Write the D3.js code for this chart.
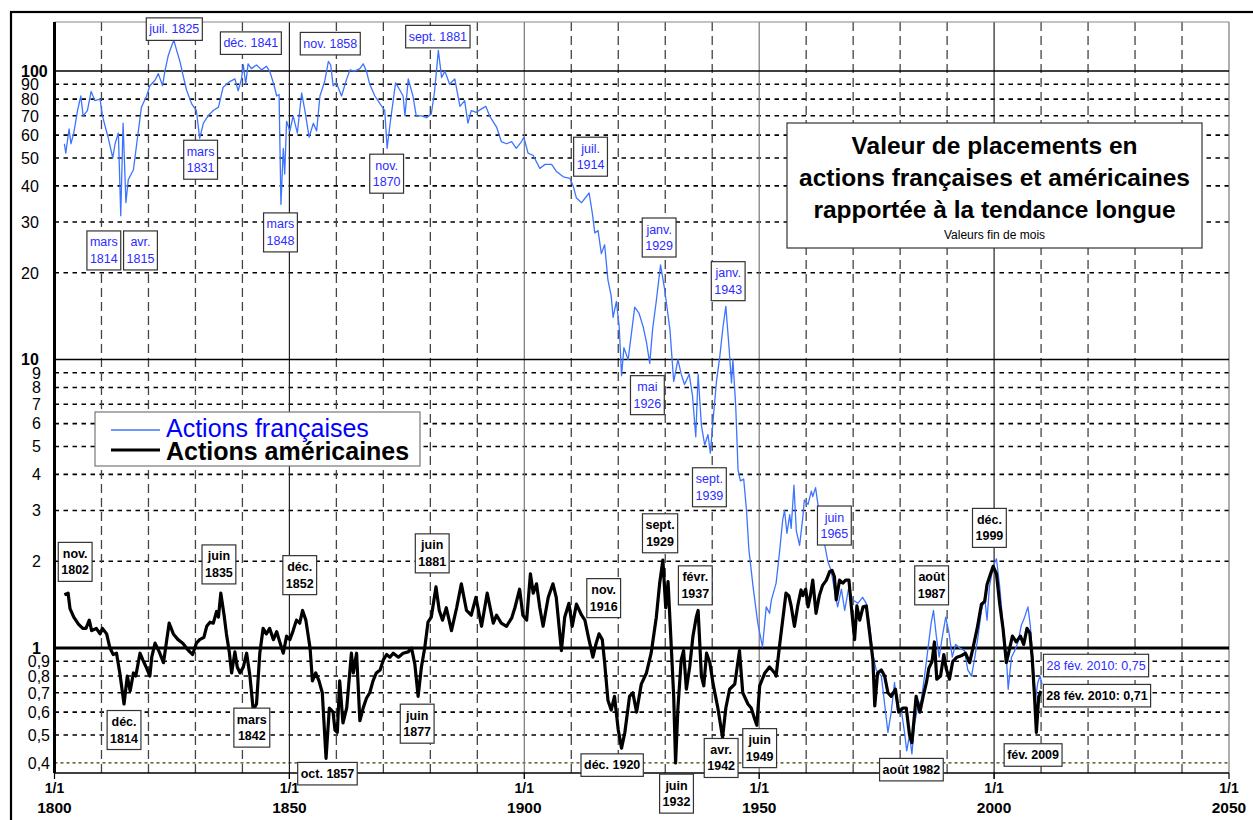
<!DOCTYPE html>
<html><head><meta charset="utf-8">
<script src="https://cdn.jsdelivr.net/npm/d3@7"></script>
<style>body{margin:0;background:#fff}svg{display:block;font-family:"Liberation Sans",Arial,sans-serif}</style>
</head><body><svg id="c" width="1253" height="820"></svg>
<script>
// ---------- DATA ----------
const frenchSeries = [
[1802.1,56],[1802.4,52],[1803.1,63],[1803.5,56],[1804.1,61],[1804.9,73],[1805.6,82],[1806.1,70],[1807.0,73],[1807.8,85],
[1808.6,79],[1809.7,80],[1810.2,70],[1811.4,59],[1812.4,50],[1812.9,56],[1813.6,61],[1814.1,31.5],[1814.6,66],[1815.2,35],
[1815.7,42],[1816.8,45.5],[1817.5,56],[1818.5,75],[1819.6,82],[1820.3,89],[1821.4,93],[1822.1,98],[1823.0,89],[1823.5,100],
[1824.2,113],[1824.9,122],[1825.4,128],[1826.0,118],[1826.7,108],[1827.4,96],[1828.1,86],[1829.2,77],[1830.2,73],[1830.9,58.5],
[1831.7,66],[1832.7,70],[1833.8,73],[1834.9,75],[1835.9,88],[1837.3,92],[1838.4,94],[1839.1,85.5],[1839.8,94],[1840.2,105],
[1840.7,90],[1841.2,106],[1841.9,102],[1843.0,105],[1844.1,101],[1845.1,104],[1845.8,100],[1846.6,91],[1847.3,82],[1847.8,83],
[1848.2,34.5],[1848.7,54],[1849.0,44],[1849.4,67],[1850.1,62],[1850.8,70],[1851.7,61],[1852.6,84],[1853.3,73],[1854.2,59],
[1855.1,66],[1855.8,62],[1856.5,82],[1857.5,92],[1858.3,108],[1858.8,105],[1859.3,89],[1860.0,91],[1861.1,82],[1862.2,94],
[1862.9,101],[1863.9,100],[1865.0,102],[1865.7,106],[1866.4,100],[1867.1,90],[1868.2,82],[1869.3,77],[1870.3,73],[1870.8,54],
[1871.5,67],[1872.6,91],[1873.5,86],[1874.2,82],[1874.6,70],[1875.3,94],[1876.3,82],[1877.0,70],[1878.1,70],[1879.2,69],
[1880.2,71],[1880.9,85],[1881.7,118],[1882.4,95],[1883.1,100],[1884.1,90],[1885.2,94],[1886.3,75.5],[1887.3,79],[1888.0,66],
[1888.7,73],[1889.8,72],[1890.9,74],[1891.8,75.5],[1892.6,70],[1894.1,64],[1895.1,57],[1896.2,56],[1897.3,57],[1898.3,54],
[1899.4,57],[1899.9,59],[1900.8,52],[1901.9,51],[1903.3,46],[1904.4,47.5],[1905.8,47.5],[1906.8,45],[1908.3,43],[1909.7,42.5],
[1910.4,40],[1911.1,36.3],[1912.2,35],[1913.8,37.8],[1914.5,32],[1915.0,27.5],[1915.7,28],[1916.4,23.3],[1917.1,25],[1917.8,18.9],
[1918.5,16.6],[1918.9,14],[1919.6,15.9],[1920.2,13],[1920.7,8.8],[1921.2,11],[1922.1,10],[1922.8,12.3],[1923.5,15.2],[1924.4,14.5],
[1925.3,13],[1926.0,11.5],[1926.7,9.7],[1927.3,12.7],[1928.1,16],[1929.0,21.3],[1929.9,17.4],[1931.0,12.7],[1931.8,8.4],[1932.7,10],
[1933.4,8.9],[1934.1,8.2],[1935.1,8.9],[1935.8,7.5],[1936.5,5.4],[1937.0,8.9],[1937.7,5.9],[1938.4,5.06],[1939.1,5.5],[1939.6,4.74],
[1940.2,6.2],[1940.9,8.4],[1941.6,10.2],[1942.3,13],[1942.9,15.3],[1943.6,10.9],[1944.1,8.3],[1944.4,10],[1945.0,6.9],[1945.5,4.15],
[1946.0,3.8],[1946.7,3.85],[1947.3,3.0],[1947.8,2.2],[1948.7,1.63],[1949.7,1.22],[1950.7,1.01],[1951.5,1.39],[1952.2,1.32],[1952.6,1.47],
[1953.6,1.68],[1954.3,2.13],[1955.0,2.78],[1955.4,3.0],[1955.9,2.5],[1956.5,2.9],[1956.8,2.6],[1957.4,3.67],[1957.9,2.55],[1958.6,2.27],
[1959.3,2.85],[1959.6,3.26],[1960.4,3.15],[1961.1,3.5],[1961.4,3.35],[1962.0,3.6],[1962.5,3.15],[1963.2,2.63],[1963.9,2.3],[1964.6,2.0],
[1965.3,1.86],[1966.0,1.6],[1966.7,1.39],[1967.5,1.6],[1968.2,1.35],[1969.0,1.6],[1969.9,1.47],[1971.0,1.43],[1972.0,1.5],[1972.8,1.43],
[1973.5,1.2],[1974.2,0.95],[1974.9,0.84],[1976.0,0.8],[1976.7,0.64],[1977.4,0.51],[1978.1,0.6],[1978.8,0.76],[1979.5,0.6],[1980.2,0.62],
[1981.0,0.5],[1981.4,0.44],[1982.0,0.5],[1982.5,0.43],[1983.1,0.55],[1983.8,0.63],[1984.5,0.66],[1985.2,0.8],[1985.9,0.99],[1986.6,1.22],
[1987.1,1.35],[1987.7,1.1],[1988.3,0.93],[1989.0,1.1],[1989.7,1.28],[1990.4,1.13],[1991.1,0.93],[1991.8,1.03],[1992.7,1.0],[1993.7,0.98],
[1994.4,0.84],[1995.2,0.8],[1995.9,0.93],[1996.6,1.1],[1997.3,1.35],[1998.0,1.5],[1998.5,1.25],[1999.0,1.63],[1999.8,1.92],[2000.5,2.04],
[2001.2,1.63],[2001.9,1.2],[2002.5,1.0],[2003.0,0.72],[2003.7,0.93],[2004.4,0.98],[2005.1,1.05],[2005.8,1.2],[2006.5,1.28],[2007.2,1.39],
[2007.7,1.2],[2008.3,0.89],[2008.8,0.66],[2009.3,0.76],[2009.8,0.8],[2010.2,0.75]
];
const americanSeries = [
[1802.1,1.53],[1802.9,1.55],[1803.3,1.37],[1804.1,1.28],[1805.1,1.21],[1806.0,1.17],[1806.7,1.17],[1807.4,1.25],[1807.9,1.15],[1808.9,1.17],
[1809.7,1.12],[1810.2,1.17],[1811.1,1.12],[1811.8,1.0],[1812.5,0.95],[1813.2,0.96],[1813.9,0.82],[1814.8,0.64],[1815.5,0.8],[1816.1,0.71],
[1816.8,0.82],[1817.3,0.8],[1818.2,0.96],[1818.8,0.91],[1819.5,0.86],[1820.3,0.8],[1820.7,0.93],[1821.4,1.04],[1822.3,0.97],[1823.2,0.89],
[1823.9,1.07],[1824.4,1.22],[1825.3,1.12],[1826.3,1.07],[1827.3,1.04],[1828.1,1.0],[1828.8,0.97],[1829.4,0.95],[1830.2,1.04],[1830.9,1.07],
[1831.8,1.09],[1832.4,1.19],[1833.1,1.23],[1833.8,1.22],[1834.5,1.34],[1834.9,1.28],[1835.4,1.55],[1836.1,1.3],[1836.6,1.12],[1837.2,0.97],
[1837.7,0.82],[1838.4,0.97],[1838.9,0.86],[1839.5,0.82],[1840.2,0.86],[1840.9,0.96],[1841.6,0.8],[1842.3,0.61],[1843.0,0.64],[1843.7,0.96],
[1844.4,1.17],[1845.1,1.12],[1845.8,1.17],[1846.6,1.07],[1847.3,1.14],[1847.8,1.07],[1848.7,0.96],[1849.4,1.1],[1850.1,1.07],[1850.8,1.15],
[1851.5,1.25],[1852.2,1.22],[1852.8,1.35],[1853.5,1.25],[1854.4,1.0],[1854.9,0.77],[1855.6,0.82],[1856.3,0.77],[1857.0,0.7],[1857.8,0.415],
[1858.5,0.62],[1859.3,0.6],[1859.7,0.52],[1860.2,0.51],[1860.7,0.77],[1861.4,0.55],[1862.2,0.62],[1863.2,0.96],[1863.6,0.82],[1864.3,0.96],
[1865.0,0.56],[1865.7,0.62],[1866.4,0.67],[1867.1,0.7],[1867.8,0.77],[1868.5,0.82],[1869.3,0.84],[1870.0,0.91],[1870.7,0.95],[1871.4,0.93],
[1872.1,0.96],[1873.2,0.93],[1874.2,0.96],[1875.3,0.97],[1876.0,1.0],[1876.7,0.88],[1877.4,0.68],[1878.1,0.86],[1878.8,1.0],[1879.5,1.23],
[1880.2,1.28],[1881.2,1.63],[1881.9,1.35],[1882.6,1.25],[1883.4,1.38],[1884.5,1.15],[1885.6,1.38],[1886.6,1.67],[1887.7,1.35],[1888.7,1.3],
[1889.7,1.5],[1890.9,1.19],[1892.1,1.55],[1893.4,1.22],[1894.1,1.3],[1895.1,1.22],[1896.2,1.19],[1897.3,1.27],[1898.0,1.38],[1899.0,1.6],
[1899.7,1.3],[1900.5,1.25],[1901.3,1.81],[1901.9,1.55],[1902.6,1.67],[1903.3,1.38],[1904.0,1.19],[1905.1,1.5],[1906.1,1.67],[1906.8,1.5],
[1907.9,0.98],[1908.6,1.28],[1909.5,1.43],[1910.2,1.19],[1911.1,1.42],[1912.2,1.3],[1912.9,1.25],[1913.6,1.1],[1914.6,0.93],[1915.3,1.04],
[1915.9,1.12],[1916.6,1.07],[1917.1,0.89],[1917.8,0.66],[1918.5,0.61],[1919.2,0.68],[1920.0,0.52],[1920.7,0.45],[1921.4,0.51],[1922.4,0.68],
[1923.1,0.7],[1923.9,0.6],[1924.9,0.75],[1926.0,0.82],[1927.0,0.96],[1928.1,1.28],[1928.8,1.67],[1929.5,2.02],[1930.1,1.38],[1930.6,1.7],
[1931.3,1.0],[1931.8,0.68],[1932.2,0.4],[1932.7,0.62],[1933.4,0.91],[1933.9,0.98],[1934.5,0.72],[1935.2,0.86],[1935.9,1.1],[1936.6,1.28],
[1937.0,1.35],[1937.7,0.8],[1938.2,0.74],[1938.8,0.96],[1939.5,0.89],[1940.2,0.75],[1941.2,0.62],[1942.2,0.49],[1942.9,0.62],[1943.7,0.72],
[1944.8,0.75],[1945.8,0.98],[1946.5,0.7],[1947.6,0.64],[1948.3,0.62],[1949.0,0.57],[1949.5,0.54],[1950.1,0.74],[1951.2,0.82],[1952.2,0.86],
[1953.3,0.82],[1953.6,0.8],[1954.3,1.01],[1955.0,1.25],[1955.7,1.55],[1956.3,1.52],[1956.8,1.4],[1957.5,1.19],[1958.2,1.4],[1958.9,1.59],
[1959.3,1.52],[1959.9,1.6],[1960.4,1.39],[1960.9,1.52],[1961.4,1.72],[1962.1,1.32],[1962.8,1.52],[1963.5,1.65],[1964.3,1.72],[1965.0,1.84],
[1965.5,1.86],[1966.0,1.77],[1966.4,1.47],[1967.1,1.72],[1967.8,1.68],[1968.4,1.72],[1969.1,1.72],[1969.6,1.4],[1970.3,1.07],[1970.8,1.4],
[1971.4,1.25],[1972.1,1.39],[1972.8,1.4],[1973.5,1.13],[1974.2,0.91],[1974.6,0.63],[1975.2,0.82],[1976.0,0.84],[1976.7,0.8],[1977.4,0.7],
[1978.1,0.68],[1979.0,0.72],[1979.7,0.6],[1980.6,0.62],[1981.3,0.62],[1982.0,0.5],[1982.5,0.47],[1983.1,0.6],[1983.4,0.68],[1984.2,0.6],
[1984.9,0.68],[1985.6,0.76],[1986.1,0.85],[1986.8,0.9],[1987.3,1.05],[1987.8,0.78],[1988.6,0.8],[1989.3,0.95],[1989.8,0.85],[1990.5,0.78],
[1991.2,0.9],[1992.1,0.93],[1993.0,0.94],[1993.9,0.96],[1994.8,0.89],[1995.5,1.0],[1996.4,1.17],[1997.3,1.42],[1998.0,1.45],[1998.5,1.66],
[1999.2,1.8],[1999.8,1.92],[2000.5,1.81],[2001.2,1.42],[2001.9,1.17],[2002.6,0.89],[2003.2,0.98],[2003.9,1.1],[2004.7,1.05],[2005.6,1.1],
[2006.3,1.03],[2007.0,1.17],[2007.6,1.13],[2008.1,0.93],[2008.6,0.68],[2009.0,0.51],[2009.5,0.68],[2010.0,0.71]
];
const yTickValues = [0.4,0.5,0.6,0.7,0.8,0.9,1,2,3,4,5,6,7,8,9,10,20,30,40,50,60,70,80,90,100];
const yTickLabels = ["0,4","0,5","0,6","0,7","0,8","0,9","1","2","3","4","5","6","7","8","9","10","20","30","40","50","60","70","80","90","100"];
const yMajorValues = [1,10,100];
const xTickYears = [1800,1850,1900,1950,2000,2050];
const xTickDay = "1/1";
const decadeYears = [1810,1820,1830,1840,1860,1870,1880,1890,1910,1920,1930,1940,1960,1970,1980,1990,2010,2020,2030,2040];
const frenchAnnotations = [
  {text:["juil. 1825"], year:1825.5, value:139.8},
  {text:["déc. 1841"], year:1841.8, value:125},
  {text:["nov. 1858"], year:1858.7, value:124.5},
  {text:["sept. 1881"], year:1881.6, value:131.7},
  {text:["mars","1814"], year:1810.5, value:23.9},
  {text:["avr.","1815"], year:1818.3, value:23.9},
  {text:["mars","1831"], year:1831.1, value:49.3},
  {text:["mars","1848"], year:1848.1, value:27.6},
  {text:["nov.","1870"], year:1870.7, value:44.1},
  {text:["juil.","1914"], year:1914.1, value:50.5},
  {text:["janv.","1929"], year:1928.7, value:26.5},
  {text:["janv.","1943"], year:1943.4, value:18.7},
  {text:["mai","1926"], year:1926.2, value:7.53},
  {text:["sept.","1939"], year:1939.4, value:3.61},
  {text:["juin","1965"], year:1966.0, value:2.66},
  {text:["28 fév. 2010: 0,75"], year:2021.7, value:0.87}
];
const americanAnnotations = [
  {text:["nov.","1802"], year:1804.4, value:1.99},
  {text:["juin","1835"], year:1835.0, value:1.95},
  {text:["déc.","1852"], year:1852.2, value:1.79},
  {text:["juin","1881"], year:1880.4, value:2.13},
  {text:["sept.","1929"], year:1928.9, value:2.50},
  {text:["févr.","1937"], year:1936.4, value:1.65},
  {text:["nov.","1916"], year:1916.9, value:1.49},
  {text:["déc.","1814"], year:1814.8, value:0.52},
  {text:["mars","1842"], year:1842.0, value:0.53},
  {text:["oct. 1857"], year:1858.1, value:0.367},
  {text:["juin","1877"], year:1877.2, value:0.547},
  {text:["déc. 1920"], year:1918.7, value:0.393},
  {text:["juin","1932"], year:1932.4, value:0.313},
  {text:["avr.","1942"], year:1941.9, value:0.416},
  {text:["juin","1949"], year:1950.1, value:0.45},
  {text:["août","1987"], year:1986.7, value:1.65},
  {text:["déc.","1999"], year:1999.0, value:2.61},
  {text:["août 1982"], year:1982.4, value:0.379},
  {text:["fév. 2009"], year:2008.3, value:0.426},
  {text:["28 fév. 2010: 0,71"], year:2021.9, value:0.684}
];
const titleLines = ["Valeur de placements en","actions françaises et américaines","rapportée à la tendance longue"];
const subtitle = "Valeurs fin de mois";
const legendLabels = ["Actions françaises","Actions américaines"];

// ---------- CHART ----------
const svg = d3.select("#c");
const L = 54.5, R = 1229, T = 22, B = 773;
const x = d3.scaleLinear().domain([1800,2050]).range([L,R]);
const y = d3.scaleLog().domain([0.369,148]).range([B,T]);
const blueLine = "#3d74ff", blueText = "#2b2bff";

svg.append("rect").attr("width",1253).attr("height",820).attr("fill","#fff");
svg.append("rect").attr("x",11).attr("y",12).attr("width",1270).attr("height",840)
  .attr("fill","none").attr("stroke","#000").attr("stroke-width",2.2);

const grid = svg.append("g");
yTickValues.filter(v => !yMajorValues.includes(v)).forEach(v => {
  grid.append("line").attr("x1",L).attr("x2",R).attr("y1",y(v)).attr("y2",y(v))
    .attr("stroke", v===0.4 ? "#3a3a00" : "#000")
    .attr("stroke-width", v===0.4 ? 1.3 : 1.6)
    .attr("stroke-dasharray", v===0.4 ? "3,3" : "4.5,4.5");
});
decadeYears.forEach(yr => {
  grid.append("line").attr("x1",x(yr)).attr("x2",x(yr)).attr("y1",T).attr("y2",B)
    .attr("stroke","#444").attr("stroke-width",1.3).attr("stroke-dasharray","9,5");
});
xTickYears.slice(1).forEach(yr => {
  grid.append("line").attr("x1",x(yr)).attr("x2",x(yr)).attr("y1",T).attr("y2",B+ (yr===2050?0:6))
    .attr("stroke", yr===1900||yr===1950||yr===2050 ? "#777" : "#222").attr("stroke-width",1.2);
});
yMajorValues.forEach(v => {
  grid.append("line").attr("x1",L).attr("x2",R).attr("y1",y(v)).attr("y2",y(v))
    .attr("stroke","#000").attr("stroke-width", v===1 ? 3 : 1.5);
});
grid.append("line").attr("x1",L).attr("x2",R).attr("y1",T).attr("y2",T).attr("stroke","#888").attr("stroke-width",1.2);

// series
const line = d3.line().x(d=>x(d[0])).y(d=>y(d[1]));
svg.append("path").datum(frenchSeries).attr("d",line).attr("fill","none")
  .attr("stroke",blueLine).attr("stroke-width",1.3).attr("stroke-linejoin","round");
svg.append("path").datum(americanSeries).attr("d",line).attr("fill","none")
  .attr("stroke","#000").attr("stroke-width",3.2).attr("stroke-linejoin","round");

// axes
svg.append("line").attr("x1",L).attr("x2",R).attr("y1",B).attr("y2",B).attr("stroke","#000").attr("stroke-width",1.5);
svg.append("line").attr("x1",L).attr("x2",L).attr("y1",T).attr("y2",B).attr("stroke","#000").attr("stroke-width",3);
xTickYears.forEach(yr => {
  svg.append("line").attr("x1",x(yr)).attr("x2",x(yr)).attr("y1",B).attr("y2",B+6).attr("stroke","#000").attr("stroke-width",1.2);
  svg.append("text").attr("x",x(yr)).attr("y",793).attr("text-anchor","middle")
    .attr("font-size",14).attr("font-weight","bold").text(xTickDay);
  svg.append("text").attr("x",x(yr)).attr("y",813).attr("text-anchor","middle")
    .attr("font-size",15.5).attr("font-weight","bold").text(yr);
});
yTickValues.forEach((v,i) => {
  const lab = yTickLabels[i];
  const major = yMajorValues.includes(v);
  let anchor = "end", tx = 41;
  if (v >= 10) { anchor = "start"; tx = 21; }
  else if (v < 1) { anchor = "end"; tx = 50; }
  svg.append("text").attr("x",tx).attr("y",y(v)).attr("dy","0.36em").attr("text-anchor",anchor)
    .attr("font-size",16).attr("font-weight", major ? "bold" : "normal").text(lab);
});

// legend
const lg = svg.append("g");
lg.append("rect").attr("x",95).attr("y",412).attr("width",325).attr("height",54).attr("fill","#fff").attr("stroke","#777").attr("stroke-width",1.2);
lg.append("line").attr("x1",111).attr("x2",160).attr("y1",430).attr("y2",430).attr("stroke",blueLine).attr("stroke-width",1.3);
lg.append("line").attr("x1",111).attr("x2",160).attr("y1",450).attr("y2",450).attr("stroke","#000").attr("stroke-width",3.2);
lg.append("text").attr("x",166).attr("y",437).attr("font-size",25).attr("fill","#0000ff").text(legendLabels[0]);
lg.append("text").attr("x",166).attr("y",460).attr("font-size",25).attr("font-weight","bold").attr("fill","#000").text(legendLabels[1]);

// title
const tg = svg.append("g");
tg.append("rect").attr("x",787).attr("y",123).attr("width",415).attr("height",125).attr("fill","#fff").attr("stroke","#333").attr("stroke-width",1.2);
titleLines.forEach((t,i) => {
  tg.append("text").attr("x",994.5).attr("y",154+i*32).attr("text-anchor","middle")
    .attr("font-size",24.5).attr("font-weight","bold").text(t);
});
tg.append("text").attr("x",994.5).attr("y",239).attr("text-anchor","middle").attr("font-size",12).text(subtitle);

// annotations
function drawAnnotations(list, color, weight) {
  const g = svg.append("g");
  list.forEach(a => {
    const cx = x(a.year), cy = y(a.value);
    const n = a.text.length, h = 6 + n*16.5, top = cy - h/2;
    const gg = g.append("g");
    const rect = gg.append("rect");
    const texts = a.text.map((t,i) => gg.append("text").attr("x",cx).attr("y",top+15.5+i*16.5)
      .attr("text-anchor","middle").attr("font-size",12.5).attr("font-weight",weight).attr("fill",color).text(t));
    const w = d3.max(texts, t => t.node().getComputedTextLength()) + 6;
    rect.attr("x",cx-w/2).attr("y",top).attr("width",w).attr("height",h)
      .attr("fill","#fff").attr("stroke","#333").attr("stroke-width",1.2);
  });
}
drawAnnotations(frenchAnnotations, blueText, "normal");
drawAnnotations(americanAnnotations, "#000", "bold");
</script></body></html>
